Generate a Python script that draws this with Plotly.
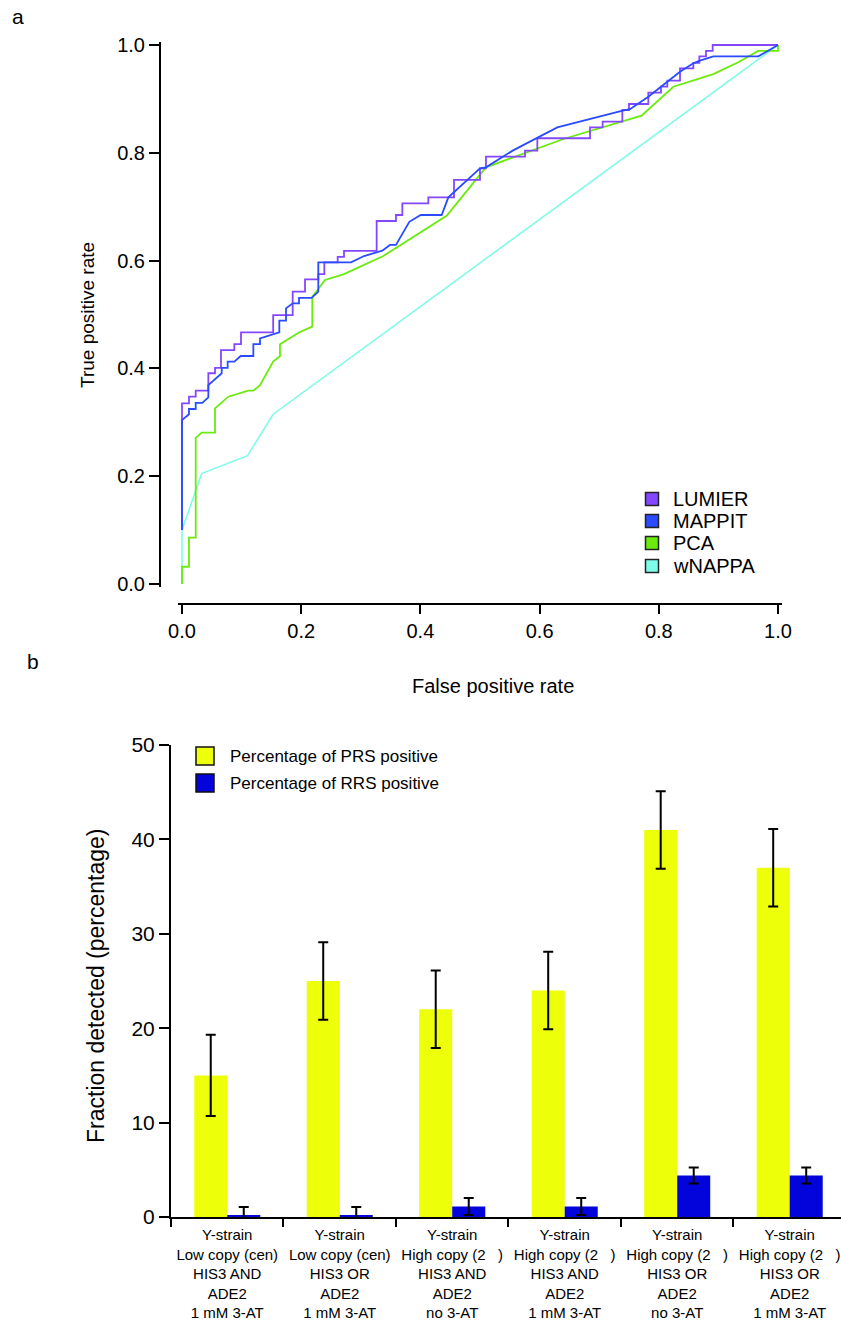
import plotly.graph_objects as go

# ---------------- data: panel a (ROC curves) ----------------
lumier_fpr = [0, 0, 0.0117, 0.023, 0.0442, 0.0554, 0.0654, 0.0878, 0.099, 0.153, 0.1857, 0.2064,
              0.2287, 0.2388, 0.2612, 0.2718, 0.3266, 0.359, 0.3697, 0.4133, 0.4564, 0.5, 0.51,
              0.5755, 0.5962, 0.6846, 0.7058, 0.7388, 0.75, 0.7824, 0.8037, 0.8143, 0.8356, 0.858,
              0.868, 0.8792, 0.8904, 1.0]
lumier_tpr = [0.1, 0.335, 0.3475, 0.3587, 0.391, 0.401, 0.434, 0.445, 0.467, 0.499, 0.5423, 0.5653,
              0.575, 0.5967, 0.607, 0.618, 0.6735, 0.6846, 0.706, 0.7174, 0.7496, 0.771, 0.793,
              0.804, 0.827, 0.847, 0.8577, 0.8794, 0.8905, 0.9115, 0.9226, 0.9338, 0.9567, 0.967,
              0.979, 0.989, 1.0, 1.0]

mappit_fpr = [0, 0, 0.0117, 0.0117, 0.023, 0.023, 0.034, 0.0442, 0.0442, 0.0666, 0.0666, 0.0766,
              0.0766, 0.0878, 0.0985, 0.1197, 0.1197, 0.1309, 0.1309, 0.1633, 0.1633, 0.1745,
              0.1745, 0.1857, 0.1963, 0.1963, 0.2176, 0.2287, 0.2287, 0.2836, 0.3054, 0.336, 0.349,
              0.359, 0.3814, 0.4005, 0.4357, 0.4469, 0.5, 0.51, 0.5548, 0.5962, 0.6297, 0.7377,
              0.7517, 0.7824, 0.816, 0.8356, 0.858, 0.869, 0.8915, 0.967, 1.0]
mappit_tpr = [0.1, 0.304, 0.315, 0.3247, 0.3247, 0.336, 0.336, 0.3463, 0.369, 0.391, 0.401, 0.401,
              0.4125, 0.4125, 0.423, 0.423, 0.445, 0.445, 0.4558, 0.467, 0.4885, 0.4885, 0.5114,
              0.5207, 0.5207, 0.531, 0.531, 0.5423, 0.5967, 0.5967, 0.6085, 0.6184, 0.629, 0.629,
              0.672, 0.6846, 0.6846, 0.7174, 0.771, 0.773, 0.804, 0.828, 0.847, 0.878, 0.881,
              0.904, 0.934, 0.9505, 0.966, 0.971, 0.979, 0.979, 1.0]

pca_fpr = [0, 0, 0.0117, 0.0117, 0.023, 0.023, 0.033, 0.0554, 0.0554, 0.0777, 0.111, 0.1197, 0.1309,
           0.153, 0.1644, 0.1644, 0.197, 0.2186, 0.2186, 0.24, 0.2718, 0.3378, 0.444, 0.51, 0.64,
           0.7405, 0.771, 0.8244, 0.8915, 0.9334, 0.967, 1.0, 1.0]
pca_tpr = [0, 0.032, 0.032, 0.086, 0.086, 0.271, 0.281, 0.281, 0.326, 0.3475, 0.3587, 0.3587, 0.369,
           0.4125, 0.423, 0.445, 0.467, 0.4774, 0.533, 0.564, 0.575, 0.6085, 0.683, 0.773, 0.8256,
           0.8596, 0.869, 0.9226, 0.946, 0.968, 0.989, 0.989, 1.0]

wnappa_fpr = [0, 0, 0.033, 0.110, 0.153, 1.0]
wnappa_tpr = [0, 0.1, 0.205, 0.238, 0.315, 1.0]

roc_names = ["LUMIER", "MAPPIT", "PCA", "wNAPPA"]
roc_colors = ["#8447FF", "#2A4BFF", "#6AEB0C", "#7FFBE9"]

roc_ticks = [0.0, 0.2, 0.4, 0.6, 0.8, 1.0]
roc_ticktext = ["0.0", "0.2", "0.4", "0.6", "0.8", "1.0"]

# ---------------- data: panel b (bars) ----------------
categories = [
    "Y-strain<br>Low copy (cen)<br>HIS3 AND<br>ADE2<br>1 mM 3-AT",
    "Y-strain<br>Low copy (cen)<br>HIS3 OR<br>ADE2<br>1 mM 3-AT",
    "Y-strain<br>High copy (2\u00a0\u00a0\u00a0)<br>HIS3 AND<br>ADE2<br>no 3-AT",
    "Y-strain<br>High copy (2\u00a0\u00a0\u00a0)<br>HIS3 AND<br>ADE2<br>1 mM 3-AT",
    "Y-strain<br>High copy (2\u00a0\u00a0\u00a0)<br>HIS3 OR<br>ADE2<br>no 3-AT",
    "Y-strain<br>High copy (2\u00a0\u00a0\u00a0)<br>HIS3 OR<br>ADE2<br>1 mM 3-AT",
]
prs_values = [15, 25, 22, 24, 41, 37]
prs_errors = [4.3, 4.1, 4.1, 4.1, 4.1, 4.1]
rrs_values = [0.15, 0.15, 1.1, 1.1, 4.4, 4.4]
rrs_errors = [0.9, 0.9, 0.9, 0.9, 0.85, 0.85]
bar_names = ["Percentage of PRS positive", "Percentage of RRS positive"]
bar_colors = ["#EEFF0A", "#0303DB"]
bar_ticks = [0, 10, 20, 30, 40, 50]

# ---------------- layout helpers (pixel -> paper) ----------------
W, H = 841, 1321
FONT = "Liberation Sans, Arial, sans-serif"


def fx(p):
    return p / W


def fy(p):
    return 1 - p / H


fig = go.Figure()

# ROC traces (drawing order: wNAPPA, PCA, LUMIER, MAPPIT)
fig.add_trace(go.Scatter(x=wnappa_fpr, y=wnappa_tpr, mode="lines", name=roc_names[3],
                         line=dict(color=roc_colors[3], width=1.6), xaxis="x", yaxis="y",
                         showlegend=False))
fig.add_trace(go.Scatter(x=pca_fpr, y=pca_tpr, mode="lines", name=roc_names[2],
                         line=dict(color=roc_colors[2], width=1.8), xaxis="x", yaxis="y",
                         showlegend=False))
fig.add_trace(go.Scatter(x=lumier_fpr, y=lumier_tpr, mode="lines", name=roc_names[0],
                         line=dict(color=roc_colors[0], width=1.8, shape="hv"), xaxis="x", yaxis="y",
                         showlegend=False))
fig.add_trace(go.Scatter(x=mappit_fpr, y=mappit_tpr, mode="lines", name=roc_names[1],
                         line=dict(color=roc_colors[1], width=1.8), xaxis="x", yaxis="y",
                         showlegend=False))

# Bars
fig.add_trace(go.Bar(x=categories, y=prs_values, name=bar_names[0], marker=dict(color=bar_colors[0]),
                     error_y=dict(type="data", array=prs_errors, color="black", thickness=2, width=5),
                     xaxis="x2", yaxis="y2", showlegend=False))
fig.add_trace(go.Bar(x=categories, y=rrs_values, name=bar_names[1], marker=dict(color=bar_colors[1]),
                     error_y=dict(type="data", array=rrs_errors, color="black", thickness=2, width=5),
                     xaxis="x2", yaxis="y2", showlegend=False))

# ---- axes ----
pad = 0.006
x0p, x1p = 182, 778
y0p, y1p = 584, 45
sx = (x1p - x0p)
sy = (y0p - y1p)
common = dict(showline=True, linecolor="black", linewidth=2, ticks="outside", tickwidth=2,
              tickcolor="black", showgrid=False, zeroline=False, automargin=False, tickangle=0)
fig.update_layout(
    template="none",
    xaxis=dict(domain=[fx(x0p - pad * sx), fx(x1p + pad * sx)], range=[-pad, 1 + pad],
               anchor="free", position=fy(604), ticklen=9,
               tickvals=roc_ticks, ticktext=roc_ticktext,
               tickfont=dict(family=FONT, size=20, color="black"), **common),
    yaxis=dict(domain=[fy(y0p + pad * sy), fy(y1p - pad * sy)], range=[-pad, 1 + pad],
               anchor="free", position=fx(160), ticklen=10,
               tickvals=roc_ticks, ticktext=roc_ticktext,
               tickfont=dict(family=FONT, size=20, color="black"), **common),
    xaxis2=dict(domain=[fx(171), 1.0], range=[-0.5, 5.456], type="category",
                anchor="y2", tickson="boundaries", ticklen=8, ticklabelstandoff=3,
                tickfont=dict(family=FONT, size=15, color="black"), **common),
    yaxis2=dict(domain=[fy(1217), fy(745)], range=[0, 50], anchor="x2", ticklen=10,
                tickvals=bar_ticks,
                tickfont=dict(family=FONT, size=21, color="black"), **common),
    barmode="group", bargap=0.413, bargroupgap=0,
)

annotations = []
shapes = []


def add_text(text, x, y, size, angle=0, xanchor="center", yanchor="middle"):
    annotations.append(dict(text=text, x=fx(x), y=fy(y), xref="paper", yref="paper",
                            showarrow=False, textangle=angle, xanchor=xanchor, yanchor=yanchor,
                            font=dict(family=FONT, size=size, color="black")))


add_text("a", 18, 16, 21)
add_text("b", 33, 661, 21)
add_text("True positive rate", 88, 315, 19, angle=-90)
add_text("False positive rate", 493, 686, 20)
add_text("Fraction detected (percentage)", 96, 986, 23, angle=-90)

# legend panel a
leg_a_y = [499, 521, 543, 566]
for name, col, yy in zip(roc_names, roc_colors, leg_a_y):
    shapes.append(dict(type="rect", xref="paper", yref="paper",
                       x0=fx(645.5), x1=fx(658.5), y0=fy(yy + 6.5), y1=fy(yy - 6.5),
                       fillcolor=col, line=dict(color="#222222", width=1.5)))
    add_text(name, 671, yy, 20, xanchor="left")

# legend panel b
leg_b_y = [756, 783]
for name, col, yy in zip(bar_names, bar_colors, leg_b_y):
    shapes.append(dict(type="rect", xref="paper", yref="paper",
                       x0=fx(196), x1=fx(214), y0=fy(yy + 9), y1=fy(yy - 9),
                       fillcolor=col, line=dict(color="#111111", width=1.5)))
    add_text(name, 228, yy, 17, xanchor="left")

fig.update_layout(
    width=W, height=H, autosize=False,
    margin=dict(l=0, r=0, t=0, b=0, pad=0),
    paper_bgcolor="white", plot_bgcolor="white",
    annotations=annotations, shapes=shapes,
    showlegend=False,
    font=dict(family=FONT, color="black"),
)

fig.write_html("out.html", config={"displayModeBar": False},
               post_script="document.body.style.margin='0';")
